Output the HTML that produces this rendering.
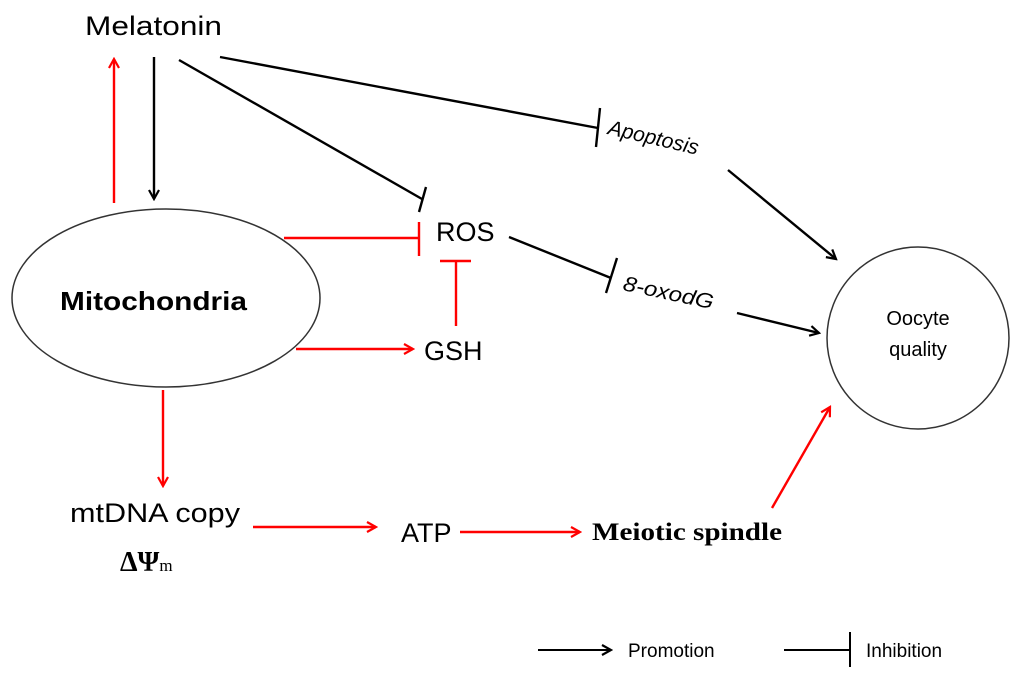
<!DOCTYPE html>
<html><head><meta charset="utf-8"><style>
html,body{margin:0;padding:0;background:#fff;}
svg{display:block;}
text{font-family:"Liberation Sans",sans-serif;fill:#000;}
.serif{font-family:"Liberation Serif",serif;}
</style></head><body>
<svg width="1024" height="675" viewBox="0 0 1024 675" xmlns="http://www.w3.org/2000/svg">
<defs>
<marker id="ab" markerWidth="12" markerHeight="12" refX="10" refY="6" orient="auto" markerUnits="userSpaceOnUse"><path d="M1,1 L10,6 L1,11" fill="none" stroke="#000" stroke-width="2.2"/></marker>
<marker id="ar" markerWidth="12" markerHeight="12" refX="10" refY="6" orient="auto" markerUnits="userSpaceOnUse"><path d="M1,1 L10,6 L1,11" fill="none" stroke="#f00" stroke-width="2.2"/></marker>
</defs>
<g stroke-width="2.4" fill="none">
<ellipse cx="166" cy="298" rx="154" ry="89" stroke="#333" stroke-width="1.5"/>
<circle cx="918" cy="338" r="91" stroke="#333" stroke-width="1.5"/>
<line x1="114" y1="203" x2="114" y2="59" stroke="#f00" marker-end="url(#ar)"/>
<line x1="154" y1="57" x2="154" y2="199" stroke="#000" marker-end="url(#ab)"/>
<line x1="179" y1="60" x2="422" y2="199" stroke="#000"/>
<line x1="426" y1="187" x2="419" y2="212" stroke="#000"/>
<line x1="220" y1="57" x2="598" y2="128" stroke="#000"/>
<line x1="600" y1="108" x2="596" y2="147" stroke="#000"/>
<line x1="284" y1="238" x2="419" y2="238" stroke="#f00"/>
<line x1="419" y1="222" x2="419" y2="256" stroke="#f00"/>
<line x1="456" y1="326" x2="456" y2="261" stroke="#f00"/>
<line x1="440" y1="261" x2="471" y2="261" stroke="#f00"/>
<line x1="296" y1="349" x2="413" y2="349" stroke="#f00" marker-end="url(#ar)"/>
<line x1="509" y1="237" x2="611" y2="278" stroke="#000"/>
<line x1="617" y1="258" x2="606" y2="293" stroke="#000"/>
<line x1="728" y1="170" x2="836" y2="259" stroke="#000" marker-end="url(#ab)"/>
<line x1="737" y1="313" x2="819" y2="333" stroke="#000" marker-end="url(#ab)"/>
<line x1="163" y1="390" x2="163" y2="486" stroke="#f00" marker-end="url(#ar)"/>
<line x1="253" y1="527" x2="376" y2="527" stroke="#f00" marker-end="url(#ar)"/>
<line x1="460" y1="532" x2="580" y2="532" stroke="#f00" marker-end="url(#ar)"/>
<line x1="772" y1="508" x2="830" y2="407" stroke="#f00" marker-end="url(#ar)"/>
<line x1="538" y1="650" x2="611" y2="650" stroke="#000" stroke-width="2" marker-end="url(#ab)"/>
<line x1="784" y1="650" x2="850" y2="650" stroke="#000" stroke-width="2"/>
<line x1="850" y1="632" x2="850" y2="667" stroke="#000" stroke-width="2"/>
</g>
<text x="85" y="35" font-size="27" textLength="137" lengthAdjust="spacingAndGlyphs">Melatonin</text>
<text x="60" y="310" font-size="26" font-weight="bold" textLength="187" lengthAdjust="spacingAndGlyphs">Mitochondria</text>
<text x="436" y="241" font-size="27">ROS</text>
<text x="424" y="360" font-size="27">GSH</text>
<text x="607" y="134" font-size="21" font-style="italic" transform="rotate(13 607 134)">Apoptosis</text>
<text x="622" y="290" font-size="21" font-style="italic" transform="rotate(12 622 290)" textLength="92" lengthAdjust="spacingAndGlyphs">8-oxodG</text>
<text x="918" y="325" font-size="20" text-anchor="middle">Oocyte</text>
<text x="918" y="356" font-size="20" text-anchor="middle">quality</text>
<text x="70" y="522" font-size="27" textLength="170" lengthAdjust="spacingAndGlyphs">mtDNA copy</text>
<text class="serif" x="120" y="571" font-size="28" font-weight="bold">ΔΨ<tspan font-size="17" font-weight="normal">m</tspan></text>
<text x="401" y="542" font-size="27">ATP</text>
<text class="serif" x="592" y="540" font-size="25" font-weight="bold" textLength="190" lengthAdjust="spacingAndGlyphs">Meiotic spindle</text>
<text x="628" y="657" font-size="19">Promotion</text>
<text x="866" y="657" font-size="19">Inhibition</text>
</svg>
</body></html>
